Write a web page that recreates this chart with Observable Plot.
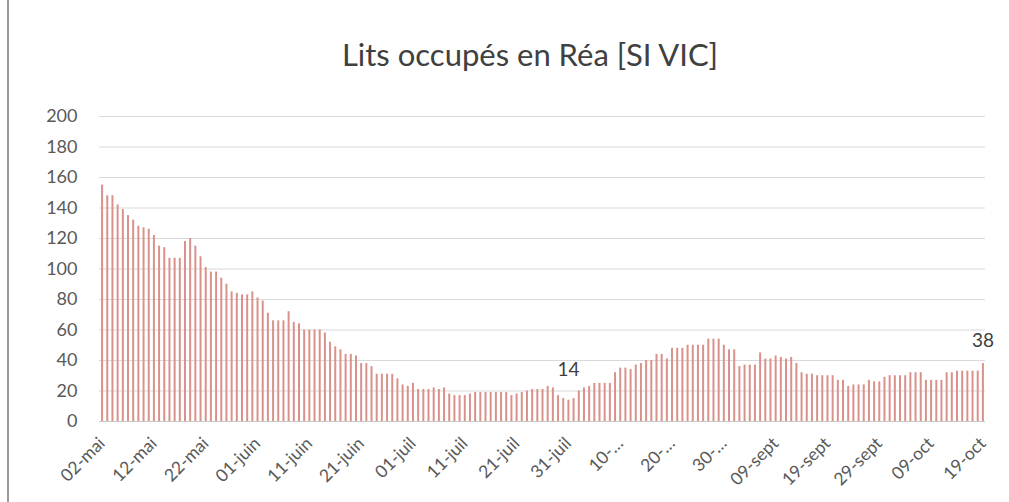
<!DOCTYPE html>
<html><head><meta charset="utf-8">
<script src="https://cdn.jsdelivr.net/npm/d3@7"></script>
<script src="https://cdn.jsdelivr.net/npm/@observablehq/plot@0.6"></script>
<style>
body{margin:0;background:#fff;font-family:Lato,"Open Sans",sans-serif;}
#wrap{position:relative;width:1009px;height:502px;overflow:hidden;background:#fff;}
#border{position:absolute;left:7px;top:0;width:2px;height:502px;background:#9a9a9a;}
#title{position:absolute;left:50px;top:34px;width:960px;text-align:center;font-size:31px;line-height:40px;color:#404040;}
#chart{position:absolute;left:0;top:95px;}
</style></head><body>
<div id="wrap"><div id="border"></div><div id="title">Lits occupés en Réa [SI VIC]</div><div id="chart"></div></div>
<script>
const startDate = "2020-05-02";
const values = [
 155,148,148,142,139,135,132,128,127,126,
 122,115,114,107,107,107,118,120,115,108,
 101,98,98,94,90,85,84,83,83,85,
 81,79,71,66,66,66,72,65,64,60,
 60,60,60,58,52,49,47,44,44,43,
 38,38,36,31,31,31,31,28,24,23,
 25,21,21,21,22,21,22,18,17,17,
 17,18,19,19,19,19,19,19,19,17,
 18,19,20,21,21,21,23,22,17,15,
 14,15,20,22,23,25,25,25,25,32,
 35,35,34,37,38,40,40,44,44,41,
 48,48,48,50,50,50,50,54,54,54,
 50,47,47,36,37,37,37,45,41,41,
 43,42,41,42,38,32,31,31,30,30,
 30,30,27,27,23,24,24,24,27,26,
 26,29,30,30,30,30,32,32,32,27,
 27,27,27,32,32,33,33,33,33,33,
 38
];
const tickLabels = ["02-mai","12-mai","22-mai","01-juin","11-juin","21-juin","01-juil","11-juil","21-juil","31-juil","10-…","20-…","30-…","09-sept","19-sept","29-sept","09-oct","19-oct"];
const yTicks = [0,20,40,60,80,100,120,140,160,180,200];
const labelledDays = [90, 170];
const labelOffsets = [-30, -23];

const DAY = 864e5;
const start = new Date(startDate + "T00:00:00Z");
const data = values.map((v, i) => ({date: new Date(start.getTime() + i * DAY), value: v, i}));
const tickDates = tickLabels.map((l, k) => data[k * 10].date);
const labelMap = new Map(tickDates.map((d, k) => [+d, tickLabels[k]]));
const labelled = labelledDays.map((d, k) => ({...data[d], dy: labelOffsets[k]}));

const chart = Plot.plot({
  width: 1009, height: 407,
  marginTop: 21, marginBottom: 81, marginLeft: 99, marginRight: 24,
  style: {fontFamily: "Lato, 'Open Sans', sans-serif", color: "#595959", background: "transparent"},
  x: {type: "utc", domain: [new Date(start.getTime() - DAY / 2), new Date(data[data.length - 1].date.getTime() + DAY / 2)]},
  y: {domain: [0, 200]},
  marks: [
    Plot.ruleY(yTicks.filter(t => t > 0), {stroke: "#d9d9d9", strokeWidth: 1}),
    Plot.ruleX(data, {x: "date", y1: 0, y2: "value", stroke: "#d9928b", strokeWidth: 2}),
    Plot.ruleY([0], {stroke: "#c8c8c8"}),
    Plot.axisY({ticks: yTicks, tickSize: 0, tickPadding: 22, fontSize: 18, label: null, fill: "#595959"}),
    Plot.axisX({ticks: tickDates, tickFormat: d => labelMap.get(+d), tickRotate: -45, tickSize: 0, tickPadding: 19, fontSize: 17.5, label: null, fill: "#595959"}),
    ...labelled.map(l => Plot.text([l], {x: "date", y: "value", text: d => String(d.value), dy: l.dy, fontSize: 19, fill: "#404040"}))
  ]
});
document.getElementById("chart").appendChild(chart);
</script>
</body></html>
